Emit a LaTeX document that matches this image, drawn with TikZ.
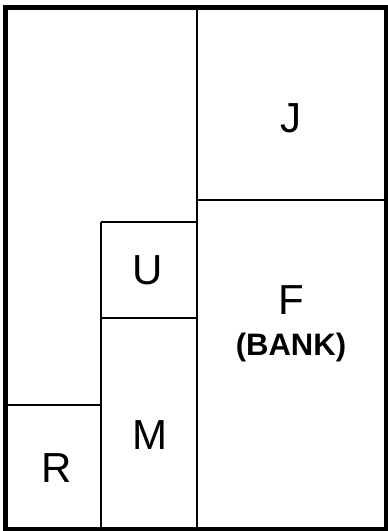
\documentclass[tikz,border=0pt]{standalone}
\usepackage{fontspec}
\setmainfont{Liberation Sans}
\tikzset{
  frame/.style={line width=5pt},
  wall/.style={line width=2.8pt},
  lot/.style={font=\fontsize{42}{42}\selectfont, inner sep=0pt},
  note/.style={font=\bfseries\fontsize{31}{31}\selectfont, inner sep=0pt}
}

\begin{document}
\begin{tikzpicture}[x=1pt,y=-1pt]
\useasboundingbox (0,0) rectangle (388,531);
	\draw[frame] (5,7) rectangle (386,529);
	
	\draw[wall] (197,7) -- (197,529);
	\draw[wall] (197,200) -- (386,200);
	\draw[wall] (101,222) -- (197,222);
	\draw[wall] (101,222) -- (101,529);
	\draw[wall] (101,318) -- (197,318);
	\draw[wall] (5,405) -- (101,405);
	
	\node[lot] (J) at (291,118) {J};
	\node[lot] (U) at (148,270) {U};
	\node[lot] (F) at (291,300) {F};
	\node[note] (bank) at (291,347) {(BANK)};
	\node[lot] (M) at (150,435) {M};
	\node[lot] (R) at (57,468) {R};

\end{tikzpicture}
\end{document}
